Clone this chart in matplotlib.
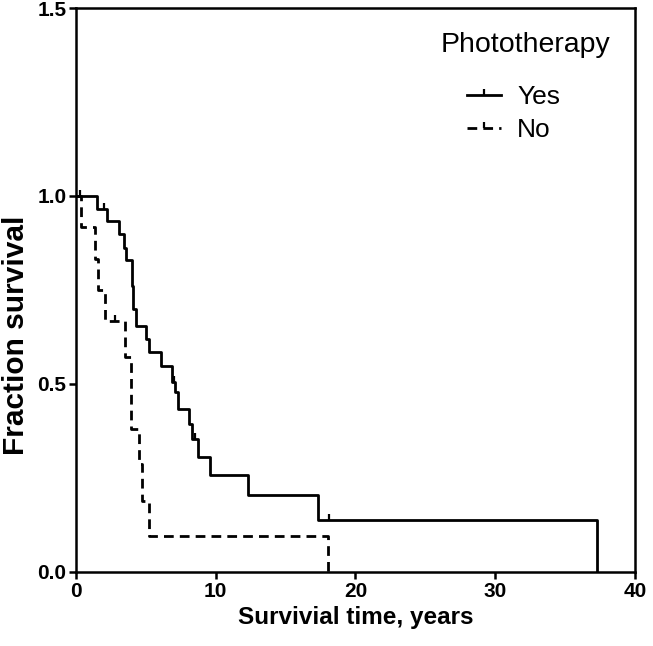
import numpy as np
import matplotlib
matplotlib.use('Agg')
import matplotlib.pyplot as plt
from matplotlib.lines import Line2D

plt.rcParams['font.family'] = ['Liberation Sans', 'DejaVu Sans']

# Kaplan-Meier steps
yes_t = [0, 1.5, 2.2, 3.1, 3.4, 3.6, 4.0, 4.1, 4.3, 5.0, 5.2, 6.1, 6.9, 7.1, 7.3,
         8.1, 8.3, 8.7, 9.6, 12.3, 17.3, 37.3]
yes_s = [1.0, 0.965, 0.933, 0.898, 0.861, 0.83, 0.76, 0.70, 0.655, 0.62, 0.585,
         0.548, 0.505, 0.48, 0.433, 0.393, 0.353, 0.307, 0.257, 0.205, 0.138, 0.0]
yes_cens = [0.3, 2.0, 7.0, 8.5, 18.1]

no_t = [0, 0.36, 1.33, 1.57, 2.07, 3.5, 3.9, 4.5, 4.7, 5.2, 18.0]
no_s = [1.0, 0.917, 0.833, 0.75, 0.667, 0.571, 0.381, 0.286, 0.190, 0.095, 0.0]
no_cens = [2.8]

xticks = [0, 10, 20, 30, 40]
yticks = [0.0, 0.5, 1.0, 1.5]

tick = [(0, 0), (0, 1)]
dash = (0, (3.5, 2.2))


def surv_at(ts, ss, t):
    i = np.searchsorted(ts, t, side='right') - 1
    return ss[i]


fig = plt.figure(figsize=(6.53, 6.46), dpi=100)
ax = fig.add_axes([0.1164, 0.1146, 0.856, 0.873])

ax.step(yes_t, yes_s, where='post', c='k', lw=2)
ax.step(no_t, no_s, where='post', c='k', lw=2, ls=dash)

ax.plot(yes_cens, [surv_at(yes_t, yes_s, t) for t in yes_cens], ls='none',
        marker=tick, ms=9, mew=1.6, c='k')
ax.plot(no_cens, [surv_at(no_t, no_s, t) for t in no_cens], ls='none',
        marker=tick, ms=9, mew=1.6, c='k')

ax.set_xlim(0, 40)
ax.set_ylim(0, 1.5)
ax.set_xticks(xticks)
ax.set_yticks(yticks)
ax.set_yticklabels(['%.1f' % v for v in yticks])
for s in ax.spines.values():
    s.set_linewidth(1.8)
ax.tick_params(direction='out', length=5, width=1.8, labelsize=15, pad=2)
for lab in ax.get_xticklabels() + ax.get_yticklabels():
    lab.set_fontweight('bold')

ax.set_xlabel('Survivial time, years', fontsize=17.5, fontweight='bold', labelpad=4)
ax.set_ylabel('Fraction survival', fontsize=21.5, fontweight='bold')
ax.yaxis.set_label_coords(-0.082, 0.42)

# legend title drawn on its own so the entries can sit indented under it
ax.text(0.805, 0.934, 'Phototherapy', transform=ax.transAxes, fontsize=20.5,
        ha='center', va='center')
handles = [
    Line2D([], [], c='k', lw=2, marker=tick, ms=9, mew=1.6),
    Line2D([], [], c='k', lw=2, ls=dash, marker=tick, ms=9, mew=1.6),
]
leg = ax.legend(handles, ['Yes', 'No'], loc='upper left',
                bbox_to_anchor=(0.6995, 0.863),
                frameon=False, numpoints=1, fontsize=19,
                handlelength=1.3, handletextpad=0.6, labelspacing=0.33,
                borderaxespad=0, borderpad=0)

fig.savefig('out.png', dpi=100)
